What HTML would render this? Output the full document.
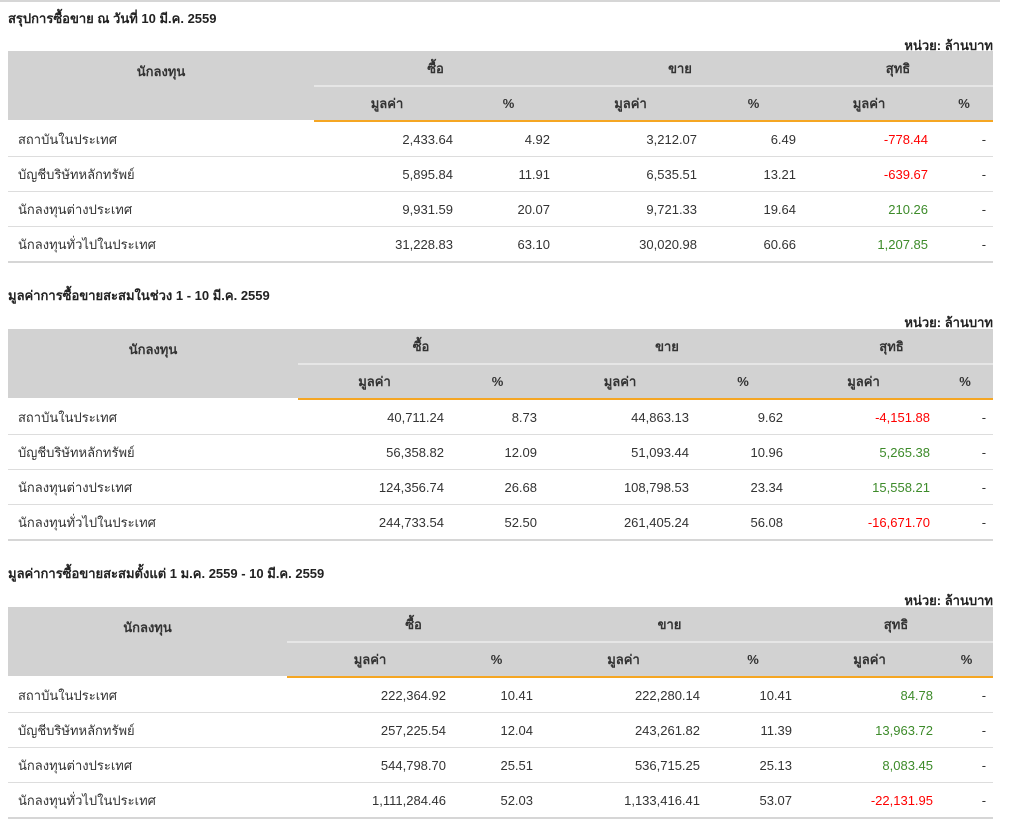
<!DOCTYPE html>
<html><head><meta charset="utf-8">
<style>
body{margin:0;width:1011px;height:826px;background:#fff;position:relative;overflow:hidden;font-family:"Liberation Sans","DejaVu Sans",sans-serif;font-size:13px;color:#333}
.topline{position:absolute;left:0;top:0;width:1000px;height:2px;background:#d6d6d6}
.title{position:absolute;left:8px;font-weight:bold;font-size:13px;color:#222}
.unit{position:absolute;right:18px;font-weight:bold;font-size:13px;color:#222}
table{position:absolute;left:8px;width:985px;border-collapse:collapse;table-layout:fixed}
th{background:#d2d2d2;height:34px;font-weight:bold;color:#333;text-align:center;padding:0}
tr.h1 th.grp{border-bottom:2px solid #e6e6e6}
tr.h2 th{border-bottom:2px solid #f5a623;height:33px}
td{height:34px;border-bottom:1px solid #ddd;padding:0 7px 0 10px;text-align:right}
td.name{text-align:left}
tr:last-child td{border-bottom:2px solid #d6d6d6}
.neg{color:#f00}.pos{color:#3d8b2a}
</style></head><body>
<div class="topline"></div>
<div id="root"></div>
<script>
const sections=[
 {title:"สรุปการซื้อขาย ณ วันที่ 10 มี.ค. 2559",ty:8,uy:35,top:51,cols:[306,146,97,147,99,132,58]},
 {title:"มูลค่าการซื้อขายสะสมในช่วง 1 - 10 มี.ค. 2559",ty:285,uy:312,top:329,cols:[290,153,93,152,94,147,56]},
 {title:"มูลค่าการซื้อขายสะสมตั้งแต่ 1 ม.ค. 2559 - 10 มี.ค. 2559",ty:563,uy:590,top:607,cols:[279,166,87,167,92,141,53]}
];
const investors=["สถาบันในประเทศ","บัญชีบริษัทหลักทรัพย์","นักลงทุนต่างประเทศ","นักลงทุนทั่วไปในประเทศ"];
const buyVals=[["2,433.64","5,895.84","9,931.59","31,228.83"],["40,711.24","56,358.82","124,356.74","244,733.54"],["222,364.92","257,225.54","544,798.70","1,111,284.46"]];
const buyPct=[["4.92","11.91","20.07","63.10"],["8.73","12.09","26.68","52.50"],["10.41","12.04","25.51","52.03"]];
const sellVals=[["3,212.07","6,535.51","9,721.33","30,020.98"],["44,863.13","51,093.44","108,798.53","261,405.24"],["222,280.14","243,261.82","536,715.25","1,133,416.41"]];
const sellPct=[["6.49","13.21","19.64","60.66"],["9.62","10.96","23.34","56.08"],["10.41","11.39","25.13","53.07"]];
const netVals=[["-778.44","-639.67","210.26","1,207.85"],["-4,151.88","5,265.38","15,558.21","-16,671.70"],["84.78","13,963.72","8,083.45","-22,131.95"]];
const root=document.getElementById('root');
sections.forEach((s,si)=>{
  const t=document.createElement('div');t.className='title';t.style.top=s.ty+'px';t.textContent=s.title;
  
  
  root.appendChild(t);
  const u=document.createElement('div');u.className='unit';u.style.top=s.uy+'px';u.textContent='หน่วย: ล้านบาท';
  
  
  root.appendChild(u);
  const tb=document.createElement('table');tb.style.top=s.top+'px';
  
  
  let h='<colgroup>'+s.cols.map(w=>'<col style="width:'+w+'px">').join('')+'</colgroup>';
  h+='<tr class="h1"><th rowspan="2" style="vertical-align:top;padding-top:10px;border-bottom:2px solid #fff">นักลงทุน</th><th class="grp" colspan="2">ซื้อ</th><th class="grp" colspan="2">ขาย</th><th class="grp" colspan="2">สุทธิ</th></tr>';
  h+='<tr class="h2">'+['มูลค่า','%','มูลค่า','%','มูลค่า','%'].map((x,i)=>'<th>'+x+'</th>').join('')+'</tr>';
  investors.forEach((n,r)=>{
    const nv=netVals[si][r];
    h+='<tr><td class="name">'+n+'</td>'
     +'<td>'+buyVals[si][r]+'</td>'
     +'<td>'+buyPct[si][r]+'</td>'
     +'<td>'+sellVals[si][r]+'</td>'
     +'<td>'+sellPct[si][r]+'</td>'
     +'<td class="'+(nv[0]=='-'?'neg':'pos')+'">'+nv+'</td>'
     +'<td>-</td></tr>';
  });
  tb.innerHTML=h;
  root.appendChild(tb);
});
</script>
</body></html>
